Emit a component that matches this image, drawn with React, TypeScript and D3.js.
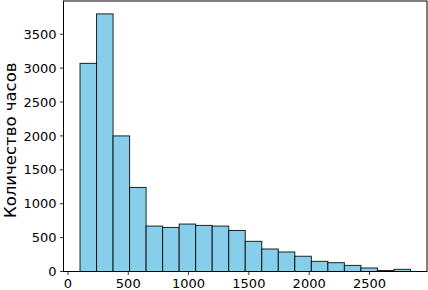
import React from "react";
import * as d3 from "d3";

const binStart = 100;
const binWidth = 137;
const counts = [3070, 3800, 2000, 1240, 670, 650, 700, 680, 670, 605, 445, 332, 288, 225, 150, 130, 90, 52, 15, 32];
const xTicks = [0, 500, 1000, 1500, 2000, 2500];
const yTicks = [0, 500, 1000, 1500, 2000, 2500, 3000, 3500];
const yLabel = "Количество часов";

const W = 428, H = 290;
const L = 63.5, R = 427, T = 1, B = 271.5;

export default function App() {
  const dataMax = binStart + binWidth * counts.length;
  const span = dataMax - binStart;
  const x = d3.scaleLinear().domain([binStart - span * 0.05, dataMax + span * 0.05]).range([L, R]);
  const maxC = d3.max(counts) as number;
  const y = d3.scaleLinear().domain([0, maxC * 1.05]).range([B, T]);
  const font = "DejaVu Sans, sans-serif";
  return (
    <svg width={W} height={H} style={{ position: "absolute", left: 0, top: 0, background: "#fff" }} fontFamily={font}>
      {counts.map((c, i) => {
        const x0 = x(binStart + i * binWidth);
        const x1 = x(binStart + (i + 1) * binWidth);
        return (
          <rect key={i} x={x0} y={y(c)} width={x1 - x0} height={B - y(c)} fill="#87CEEB" stroke="#000" strokeOpacity={0.85} strokeWidth={1} />
        );
      })}
      <rect x={L} y={T} width={R - L} height={B - T} fill="none" stroke="#000" strokeWidth={1} />
      {xTicks.map((t) => (
        <g key={t}>
          <line x1={x(t)} x2={x(t)} y1={B} y2={B + 3.5} stroke="#000" strokeWidth={0.8} />
          <text x={x(t)} y={B + 16.5} textAnchor="middle" fontSize={13} fill="#000">{t}</text>
        </g>
      ))}
      {yTicks.map((t) => (
        <g key={t}>
          <line x1={L - 3.5} x2={L} y1={y(t)} y2={y(t)} stroke="#000" strokeWidth={0.8} />
          <text x={L - 7} y={y(t)} dy="0.36em" textAnchor="end" fontSize={13} fill="#000">{t}</text>
        </g>
      ))}
      <text transform={`translate(15.5, ${(T + B) / 2 + 4}) rotate(-90)`} textAnchor="middle" fontSize={16.5} fill="#000">{yLabel}</text>
    </svg>
  );
}
